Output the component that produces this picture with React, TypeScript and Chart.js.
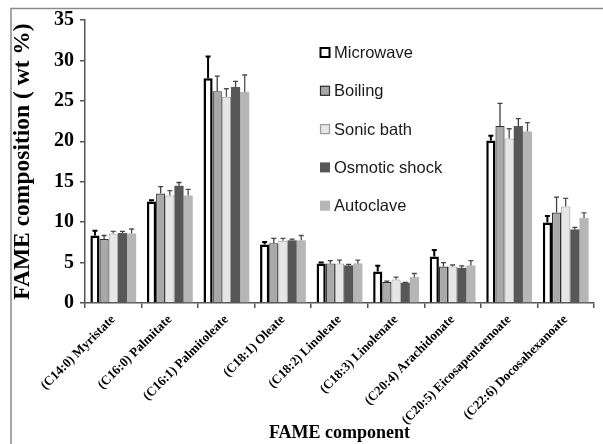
import React, { useEffect, useRef } from "react";
import { Chart, registerables } from "chart.js";

Chart.register(...registerables);

const categories = [
  "(C14:0) Myristate",
  "(C16:0) Palmitate",
  "(C16:1) Palmitoleate",
  "(C18:1) Oleate",
  "(C18:2) Linoleate",
  "(C18:3) Linolenate",
  "(C20:4) Arachidonate",
  "(C20:5) Eicosapentaenoate",
  "(C22:6) Docosahexanoate",
];

const seriesNames = ["Microwave", "Boiling", "Sonic bath", "Osmotic shock", "Autoclave"];

const microwave = [8.35, 12.55, 27.8, 7.25, 4.9, 3.9, 5.75, 20.1, 9.95];
const microwaveErr = [0.6, 0.15, 2.7, 0.3, 0.1, 0.7, 0.8, 0.6, 0.8];
const boiling = [7.9, 13.55, 26.2, 7.4, 4.9, 2.6, 4.5, 21.9, 11.2];
const boilingErr = [0.45, 0.85, 1.85, 0.6, 0.35, 0.1, 0.5, 2.8, 1.9];
const sonicBath = [8.6, 13.3, 25.5, 7.7, 4.9, 2.9, 4.5, 20.35, 11.95];
const sonicBathErr = [0.25, 0.6, 1.0, 0.3, 0.4, 0.3, 0.2, 1.2, 1.0];
const osmoticShock = [8.65, 14.5, 26.7, 7.75, 4.65, 2.5, 4.35, 21.9, 9.1];
const osmoticShockErr = [0.2, 0.4, 0.7, 0.15, 0.12, 0.05, 0.25, 0.9, 0.25];
const autoclave = [8.6, 13.3, 26.1, 7.75, 4.9, 3.2, 4.65, 21.2, 10.5];
const autoclaveErr = [0.55, 0.75, 2.1, 0.6, 0.4, 0.45, 0.6, 1.1, 0.65];

const yTicks = [0, 5, 10, 15, 20, 25, 30, 35];

const fills = ["#ffffff", "#a9a9a9", "#e6e6e6", "#575757", "#b6b6b6"];
const borders = ["#000000", "#303030", "#9a9a9a", "#575757", "#b6b6b6"];
const borderWidths = [2.5, 1.2, 1, 0, 0];
const errColors = ["#000000", "#404040", "#505050", "#404040", "#505050"];
const errWidths = [2, 1.3, 1.3, 1.3, 1.3];

const values = [microwave, boiling, sonicBath, osmoticShock, autoclave];
const errors = [microwaveErr, boilingErr, sonicBathErr, osmoticShockErr, autoclaveErr];

const errorBarPlugin = {
  id: "errorBars",
  afterDatasetsDraw(chart: any) {
    const ctx = chart.ctx;
    const yScale = chart.scales.y;
    chart.data.datasets.forEach((ds: any, di: number) => {
      const meta = chart.getDatasetMeta(di);
      meta.data.forEach((el: any, i: number) => {
        const v = ds.data[i];
        const e = errors[di][i];
        const yTop = yScale.getPixelForValue(v + e);
        ctx.save();
        ctx.strokeStyle = errColors[di];
        ctx.lineWidth = errWidths[di];
        ctx.beginPath();
        ctx.moveTo(el.x, el.y);
        ctx.lineTo(el.x, yTop);
        ctx.moveTo(el.x - 2.5, yTop);
        ctx.lineTo(el.x + 2.5, yTop);
        ctx.stroke();
        ctx.restore();
      });
    });
  },
};

const legendPlugin = {
  id: "customLegend",
  afterDraw(chart: any) {
    const ctx = chart.ctx;
    ctx.save();
    seriesNames.forEach((name, i) => {
      const cy = 52.5 + i * 38.3;
      const bx = 320;
      const size = 10;
      ctx.fillStyle = fills[i];
      ctx.fillRect(bx, cy - size / 2, size, size);
      if (borderWidths[i] > 0) {
        ctx.strokeStyle = borders[i];
        ctx.lineWidth = i === 0 ? 2 : 1.2;
        ctx.strokeRect(bx + 0.5, cy - size / 2 + 0.5, size - 1, size - 1);
      }
      ctx.fillStyle = "#1a1a1a";
      ctx.font = "16.5px 'Liberation Sans', Arial, sans-serif";
      ctx.textBaseline = "middle";
      ctx.textAlign = "left";
      ctx.fillText(name, 334, cy + 1);
    });
    ctx.restore();
  },
};

const framePlugin = {
  id: "frame",
  beforeDraw(chart: any) {
    const ctx = chart.ctx;
    ctx.save();
    ctx.fillStyle = "#ffffff";
    ctx.fillRect(0, 0, chart.width, chart.height);
    ctx.strokeStyle = "#8a8a8a";
    ctx.lineWidth = 1.5;
    ctx.beginPath();
    ctx.moveTo(11, 444);
    ctx.lineTo(11, 8.5);
    ctx.lineTo(603, 8.5);
    ctx.stroke();
    ctx.restore();
  },
};

export default function App() {
  const ref = useRef<HTMLCanvasElement | null>(null);

  useEffect(() => {
    if (!ref.current) return;
    const chart = new Chart(ref.current, {
      type: "bar",
      data: {
        labels: categories,
        datasets: seriesNames.map((name, i) => ({
          label: name,
          data: values[i],
          backgroundColor: fills[i],
          borderColor: borders[i],
          borderWidth: borderWidths[i],
          categoryPercentage: 0.81,
          barPercentage: 1.0,
        })),
      },
      options: {
        responsive: false,
        maintainAspectRatio: false,
        animation: false,
        layout: { autoPadding: false, padding: { left: 0, top: 20, right: 9, bottom: 0 } },
        plugins: {
          legend: { display: false },
          tooltip: { enabled: false },
        },
        scales: {
          x: {
            grid: {
              display: true,
              drawOnChartArea: false,
              drawTicks: true,
              tickLength: 5,
              color: "#555555",
              lineWidth: 1.5,
              offset: true,
            },
            border: { display: true, color: "#555555", width: 1.5 },
            ticks: {
              autoSkip: false,
              minRotation: 45,
              maxRotation: 45,
              color: "#000000",
              padding: 4,
              font: { family: "'Liberation Serif', 'Times New Roman', serif", size: 13, weight: "bold" },
            },
            title: {
              display: true,
              text: "FAME component",
              color: "#000000",
              padding: { top: 0, bottom: 0 },
              font: { family: "'Liberation Serif', 'Times New Roman', serif", size: 18, weight: "bold" },
            },
            afterFit(scale: any) {
              scale.height = 141;
            },
          },
          y: {
            min: 0,
            max: 35,
            afterBuildTicks(scale: any) {
              scale.ticks = yTicks.map((v) => ({ value: v }));
            },
            grid: {
              display: true,
              drawOnChartArea: false,
              drawTicks: true,
              tickLength: 5,
              color: "#555555",
              lineWidth: 1.5,
            },
            border: { display: true, color: "#555555", width: 1.5 },
            ticks: {
              color: "#000000",
              padding: 6,
              font: { family: "'Liberation Serif', 'Times New Roman', serif", size: 20, weight: "bold" },
            },
            title: {
              display: true,
              text: "FAME composition ( wt %)",
              color: "#000000",
              padding: { top: 9, bottom: 0 },
              font: { family: "'Liberation Serif', 'Times New Roman', serif", size: 23.5, weight: "bold" },
            },
            afterFit(scale: any) {
              scale.width = 85;
            },
          },
        },
      },
      plugins: [framePlugin, errorBarPlugin, legendPlugin],
    } as any);
    return () => chart.destroy();
  }, []);

  return (
    <div style={{ position: "absolute", left: 0, top: 0, width: 603, height: 444 }}>
      <canvas ref={ref} width={603} height={444} style={{ display: "block" }} />
    </div>
  );
}
